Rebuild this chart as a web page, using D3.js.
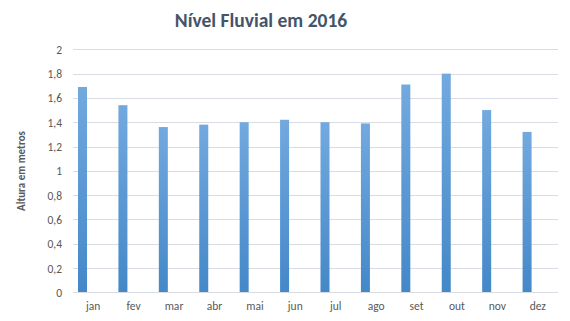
<!DOCTYPE html>
<html><head><meta charset="utf-8">
<script src="https://cdn.jsdelivr.net/npm/d3@7/dist/d3.min.js"></script>
<style>body{margin:0;background:#fff;}svg{display:block;}</style>
</head><body>
<svg id="c" width="570" height="321"></svg>
<script>
const months = ["jan","fev","mar","abr","mai","jun","jul","ago","set","out","nov","dez"];
const levels = [1.69,1.54,1.36,1.38,1.40,1.42,1.40,1.39,1.71,1.80,1.50,1.32];
const yTicks = [0,0.2,0.4,0.6,0.8,1,1.2,1.4,1.6,1.8,2];
const titleText = "Nível Fluvial em 2016";
const yTitle = "Altura em metros";

const svg = d3.select("#c");
const font = "Calibri, Carlito, 'Open Sans', sans-serif";
const m = {left:73, right:558, top:49.3, bottom:292.3};
const x = d3.scaleBand().domain(months).range([m.left, m.right]).padding(0);
const y = d3.scaleLinear().domain([0,2]).range([m.bottom, m.top]);

const defs = svg.append("defs");
const g = defs.append("linearGradient").attr("id","bg").attr("x1",0).attr("y1",0).attr("x2",0).attr("y2",1);
g.append("stop").attr("offset","0%").attr("stop-color","#72a9df");
g.append("stop").attr("offset","100%").attr("stop-color","#4488c8");

svg.append("g").selectAll("line").data(yTicks.filter(d=>d>0)).join("line")
  .attr("x1",m.left).attr("x2",m.right)
  .attr("y1",d=>Math.round(y(d))+0.5).attr("y2",d=>Math.round(y(d))+0.5)
  .attr("stroke","#d9dde3").attr("stroke-width",1);

svg.append("g").selectAll("rect").data(levels).join("rect")
  .attr("x",(d,i)=>x(months[i])+5)
  .attr("width",9)
  .attr("y",d=>y(d))
  .attr("height",d=>y(0)-y(d))
  .attr("fill","url(#bg)");

svg.append("line").attr("x1",m.left).attr("x2",m.right)
  .attr("y1",Math.round(y(0))+0.5).attr("y2",Math.round(y(0))+0.5)
  .attr("stroke","#d9dde3");

const yAxis = d3.axisLeft(y).tickValues(yTicks).tickSize(0).tickPadding(0)
  .tickFormat(d=>String(d).replace(".",","));
const ya = svg.append("g").attr("transform",`translate(62,0)`).call(yAxis);
ya.select(".domain").remove();
ya.selectAll("text").attr("font-family",font).attr("font-size","11.5px").attr("fill","#595959").attr("dy","0.35em");

const xAxis = d3.axisBottom(x).tickSize(0).tickPadding(0);
const xa = svg.append("g").attr("transform",`translate(0,${m.bottom+10})`).call(xAxis);
xa.select(".domain").remove();
xa.selectAll("text").attr("font-family",font).attr("font-size","11.5px").attr("fill","#595959").attr("dy","0.71em");

svg.append("text").attr("x",261).attr("y",26.5).attr("text-anchor","middle")
  .attr("font-family",font).attr("font-weight","bold").attr("font-size","19.5px")
  .attr("fill","#44546a").text(titleText);

svg.append("text").attr("transform","translate(25,171) rotate(-90)").attr("text-anchor","middle")
  .attr("font-family",font).attr("font-weight","bold").attr("font-size","11px")
  .attr("fill","#595959").text(yTitle);
</script>
</body></html>
